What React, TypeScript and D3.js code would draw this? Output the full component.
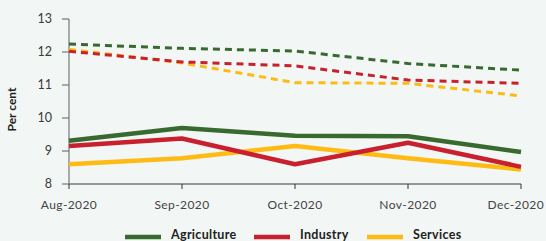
import * as d3 from 'd3';

const WIDTH = 546;
const HEIGHT = 241;

const months = ['Aug-2020', 'Sep-2020', 'Oct-2020', 'Nov-2020', 'Dec-2020'];

const agricultureSolid = [9.31, 9.7, 9.46, 9.45, 8.97];
const industrySolid = [9.15, 9.38, 8.6, 9.25, 8.52];
const servicesSolid = [8.6, 8.78, 9.15, 8.78, 8.44];

const agricultureDashed = [12.24, 12.11, 12.03, 11.65, 11.45];
const industryDashed = [12.02, 11.7, 11.58, 11.15, 11.05];
const servicesDashed = [12.08, 11.67, 11.07, 11.05, 10.67];

const yTicks = [8, 9, 10, 11, 12, 13];

const GREEN = '#386a2f';
const RED = '#c8202f';
const YELLOW = '#fdbb14';
const FONT = 'Lato, "Noto Sans", sans-serif';

const series = [
  {name: 'Agriculture', color: GREEN, solid: agricultureSolid, dashed: agricultureDashed},
  {name: 'Industry', color: RED, solid: industrySolid, dashed: industryDashed},
  {name: 'Services', color: YELLOW, solid: servicesSolid, dashed: servicesDashed},
];

function App() {
  const x = d3.scalePoint<string>().domain(months).range([69, 521]);
  const y = d3.scaleLinear().domain([8, 13]).range([184, 19]);

  const line = d3
    .line<number>()
    .x((_, i) => x(months[i])!)
    .y((d) => y(d));

  const legendX = [125, 254, 367];

  return (
    <svg
      width={WIDTH}
      height={HEIGHT}
      style={{position: 'fixed', left: 0, top: 0, background: '#f2f6f4'}}
      fontFamily={FONT}
    >
      <rect width={WIDTH} height={HEIGHT} fill="#f2f6f4" />

      {/* y axis */}
      <line x1={69} x2={69} y1={y(13)} y2={y(8)} stroke="#777" strokeWidth={1.2} />
      {yTicks.map((t) => (
        <g key={t}>
          <line x1={62} x2={69} y1={y(t)} y2={y(t)} stroke="#777" strokeWidth={1.2} />
          <text x={52} y={y(t)} dy="0.35em" textAnchor="end" fontSize={12.5} fill="#3a3a3a">
            {t}
          </text>
        </g>
      ))}
      <text
        transform={`translate(16,${(y(8) + y(13)) / 2 + 8}) rotate(-90)`}
        textAnchor="middle"
        fontSize={12}
        fontWeight="bold"
        fill="#222"
      >
        Per cent
      </text>

      {/* x axis */}
      <line x1={69} x2={521} y1={184} y2={184} stroke="#777" strokeWidth={1.5} />
      {months.map((m, i) => {
        const last = i === months.length - 1;
        return (
          <g key={m}>
            <line x1={x(m)!} x2={x(m)!} y1={184} y2={189} stroke="#333" strokeWidth={1} />
            <text
              x={last ? WIDTH - 2 : x(m)!}
              y={205}
              dy="0.35em"
              textAnchor={last ? 'end' : 'middle'}
              fontSize={12}
              letterSpacing={0.4}
              fill="#444"
            >
              {m}
            </text>
          </g>
        );
      })}

      {/* dashed lines */}
      {[...series].reverse().map((s) => (
        <path
          key={`d-${s.name}`}
          d={line(s.dashed)!}
          fill="none"
          stroke={s.color}
          strokeWidth={3}
          strokeDasharray="7 5"
        />
      ))}

      {/* solid lines */}
      {[...series].reverse().map((s) => (
        <path
          key={`s-${s.name}`}
          d={line(s.solid)!}
          fill="none"
          stroke={s.color}
          strokeWidth={4.5}
          strokeLinejoin="round"
        />
      ))}

      {/* legend */}
      {series.map((s, i) => (
        <g key={`l-${s.name}`}>
          <line
            x1={legendX[i]}
            x2={legendX[i] + 36}
            y1={237}
            y2={237}
            stroke={s.color}
            strokeWidth={4.5}
          />
          <text
            x={legendX[i] + 46}
            y={235}
            dy="0.35em"
            fontSize={12.5}
            fontWeight="bold"
            letterSpacing={0.3}
            fill="#222"
          >
            {s.name}
          </text>
        </g>
      ))}
    </svg>
  );
}

export default App;
